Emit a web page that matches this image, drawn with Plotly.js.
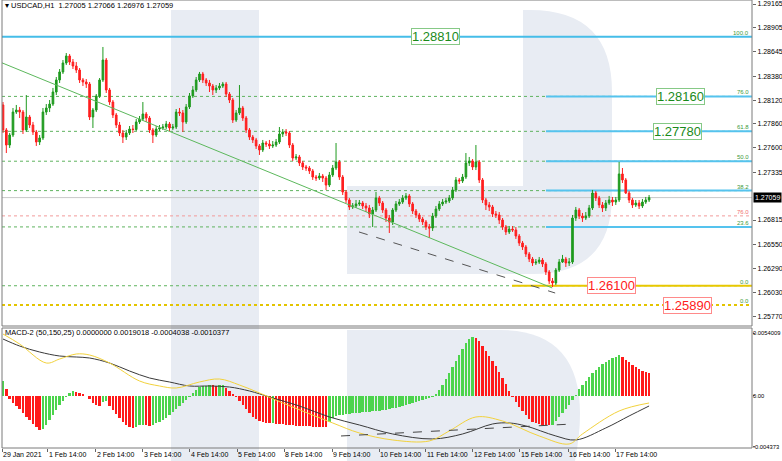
<!DOCTYPE html>
<html>
<head>
<meta charset="utf-8">
<script src="https://cdn.plot.ly/plotly-3.0.1.min.js"></script>
<style>html,body{margin:0;padding:0;background:#fff;}#chart{width:782px;height:461px;}</style>
</head>
<body>
<div id="chart"></div>
<script>
// ---------------- DATA ----------------
const openP = [1.28067,1.27795,1.27631,1.27740,1.27990,1.28012,1.27990,1.27795,1.27936,1.27849,
1.27773,1.27664,1.27708,1.27990,1.28034,1.28077,1.28208,1.28339,1.28426,1.28524,
1.28600,1.28534,1.28491,1.28447,1.28339,1.28317,1.28295,1.27936,1.28012,1.28165,
1.28339,1.28556,1.28230,1.28099,1.27958,1.27849,1.27762,1.27718,1.27762,1.27805,
1.27800,1.27882,1.27914,1.27969,1.27925,1.27795,1.27740,1.27805,1.27816,1.27827,
1.27860,1.27816,1.27827,1.27990,1.27980,1.27882,1.28045,1.28165,1.28230,1.28339,
1.28404,1.28339,1.28306,1.28273,1.28230,1.28252,1.28273,1.28295,1.28186,1.28121,
1.27903,1.27980,1.28034,1.27925,1.27795,1.27718,1.27686,1.27621,1.27577,1.27653,
1.27642,1.27621,1.27631,1.27664,1.27751,1.27773,1.27762,1.27631,1.27490,1.27501,
1.27436,1.27392,1.27381,1.27349,1.27283,1.27272,1.27294,1.27272,1.27196,1.27305,
1.27381,1.27447,1.27283,1.27120,1.27033,1.26957,1.26968,1.26990,1.27000,1.26968,
1.26946,1.26881,1.26924,1.27055,1.27000,1.26924,1.26837,1.26794,1.26924,1.26990,
1.27011,1.27055,1.27077,1.26990,1.26913,1.26870,1.26826,1.26794,1.26739,1.26728,
1.26859,1.26935,1.26990,1.27011,1.27022,1.27055,1.27142,1.27251,1.27240,1.27283,
1.27436,1.27457,1.27392,1.27447,1.27251,1.27033,1.26979,1.26957,1.26881,1.26870,
1.26815,1.26739,1.26685,1.26717,1.26707,1.26641,1.26565,1.26522,1.26445,1.26391,
1.26348,1.26358,1.26380,1.26337,1.26250,1.26152,1.26130,1.26271,1.26358,1.26391,
1.26348,1.26358,1.26837,1.26924,1.26859,1.26837,1.26859,1.26946,1.27109,1.27055,
1.26979,1.26946,1.27000,1.27033,1.27011,1.27033,1.27316,1.27251,1.27109,1.27033,
1.26979,1.27000,1.26968,1.27011,1.27033];
const highP = [1.28099,1.27816,1.27762,1.28034,1.28067,1.28045,1.28012,1.28175,1.27958,1.27882,
1.27795,1.27740,1.28034,1.28077,1.28121,1.28252,1.28371,1.28458,1.28556,1.28632,
1.28621,1.28567,1.28534,1.28469,1.28360,1.28349,1.28317,1.28034,1.28186,1.28360,
1.28698,1.28578,1.28252,1.28121,1.27980,1.27882,1.27795,1.27795,1.27838,1.27849,
1.27914,1.27947,1.28099,1.27990,1.27947,1.27816,1.27838,1.27849,1.27860,1.27893,
1.27882,1.27860,1.28023,1.28034,1.28012,1.28077,1.28197,1.28273,1.28371,1.28426,
1.28426,1.28360,1.28339,1.28295,1.28284,1.28306,1.28317,1.28317,1.28208,1.28143,
1.28012,1.28284,1.28056,1.27947,1.27816,1.27740,1.27708,1.27642,1.27686,1.27675,
1.27686,1.27675,1.27697,1.27827,1.27805,1.27805,1.27784,1.27653,1.27533,1.27523,
1.27457,1.27414,1.27403,1.27370,1.27305,1.27327,1.27316,1.27294,1.27338,1.27414,
1.27653,1.27468,1.27305,1.27142,1.27055,1.27000,1.27033,1.27033,1.27022,1.27000,
1.26979,1.26957,1.27120,1.27077,1.27022,1.26946,1.26870,1.26946,1.27022,1.27044,
1.27087,1.27109,1.27098,1.27011,1.26935,1.26892,1.26848,1.26815,1.26772,1.26892,
1.26968,1.27022,1.27044,1.27055,1.27087,1.27174,1.27283,1.27272,1.27316,1.27544,
1.27501,1.27479,1.27631,1.27468,1.27272,1.27055,1.27011,1.26979,1.26913,1.26902,
1.26837,1.26761,1.26750,1.26750,1.26739,1.26663,1.26587,1.26543,1.26467,1.26413,
1.26391,1.26413,1.26402,1.26358,1.26271,1.26184,1.26293,1.26391,1.26435,1.26413,
1.26402,1.26870,1.26957,1.26946,1.26892,1.26902,1.26979,1.27142,1.27131,1.27077,
1.27011,1.27033,1.27077,1.27066,1.27066,1.27447,1.27381,1.27272,1.27131,1.27055,
1.27033,1.27033,1.27044,1.27066,1.27087];
const lowP = [1.27762,1.27544,1.27599,1.27718,1.27969,1.27925,1.27751,1.27773,1.27816,1.27740,
1.27621,1.27631,1.27686,1.27958,1.27990,1.28056,1.28175,1.28306,1.28404,1.28502,
1.28502,1.28458,1.28415,1.28306,1.28273,1.28252,1.27903,1.27816,1.27990,1.28143,
1.28317,1.28197,1.28067,1.27925,1.27816,1.27729,1.27653,1.27686,1.27740,1.27762,
1.27784,1.27860,1.27893,1.27882,1.27762,1.27653,1.27718,1.27784,1.27795,1.27805,
1.27784,1.27795,1.27805,1.27947,1.27773,1.27860,1.28023,1.28143,1.28208,1.28317,
1.28306,1.28273,1.28208,1.28175,1.28197,1.28230,1.28252,1.28154,1.28088,1.27871,
1.27882,1.27958,1.27893,1.27762,1.27686,1.27653,1.27588,1.27523,1.27555,1.27610,
1.27588,1.27599,1.27610,1.27642,1.27718,1.27729,1.27599,1.27457,1.27468,1.27403,
1.27359,1.27349,1.27316,1.27251,1.27240,1.27251,1.27229,1.27142,1.27174,1.27283,
1.27359,1.27251,1.27087,1.27000,1.26924,1.26935,1.26946,1.26968,1.26935,1.26902,
1.26837,1.26739,1.26902,1.26968,1.26892,1.26794,1.26674,1.26761,1.26902,1.26968,
1.26990,1.27033,1.26957,1.26881,1.26837,1.26794,1.26761,1.26707,1.26620,1.26696,
1.26837,1.26913,1.26968,1.26990,1.27000,1.27033,1.27120,1.27207,1.27218,1.27261,
1.27403,1.27359,1.27359,1.27218,1.27000,1.26924,1.26913,1.26848,1.26837,1.26772,
1.26707,1.26652,1.26663,1.26685,1.26609,1.26533,1.26489,1.26413,1.26358,1.26315,
1.26326,1.26337,1.26304,1.26217,1.26119,1.26086,1.26108,1.26250,1.26348,1.26304,
1.26315,1.26337,1.26805,1.26826,1.26794,1.26815,1.26837,1.26924,1.27022,1.26946,
1.26902,1.26913,1.26979,1.26968,1.26979,1.27011,1.27218,1.27098,1.27000,1.26946,
1.26957,1.26935,1.26946,1.26990,1.27011];
const closeP = [1.27795,1.27631,1.27740,1.27990,1.28012,1.27990,1.27795,1.27936,1.27849,1.27773,
1.27664,1.27708,1.27990,1.28034,1.28077,1.28208,1.28339,1.28426,1.28524,1.28600,
1.28534,1.28491,1.28447,1.28339,1.28317,1.28295,1.27936,1.28012,1.28165,1.28339,
1.28556,1.28230,1.28099,1.27958,1.27849,1.27762,1.27718,1.27762,1.27805,1.27800,
1.27882,1.27914,1.27969,1.27925,1.27795,1.27740,1.27805,1.27816,1.27827,1.27860,
1.27816,1.27827,1.27990,1.27980,1.27882,1.28045,1.28165,1.28230,1.28339,1.28404,
1.28339,1.28306,1.28273,1.28230,1.28252,1.28273,1.28295,1.28186,1.28121,1.27903,
1.27980,1.28034,1.27925,1.27795,1.27718,1.27686,1.27621,1.27577,1.27653,1.27642,
1.27621,1.27631,1.27664,1.27751,1.27773,1.27762,1.27631,1.27490,1.27501,1.27436,
1.27392,1.27381,1.27349,1.27283,1.27272,1.27294,1.27272,1.27196,1.27305,1.27381,
1.27447,1.27283,1.27120,1.27033,1.26957,1.26968,1.26990,1.27000,1.26968,1.26946,
1.26881,1.26924,1.27055,1.27000,1.26924,1.26837,1.26794,1.26924,1.26990,1.27011,
1.27055,1.27077,1.26990,1.26913,1.26870,1.26826,1.26794,1.26739,1.26728,1.26859,
1.26935,1.26990,1.27011,1.27022,1.27055,1.27142,1.27251,1.27240,1.27283,1.27436,
1.27457,1.27392,1.27447,1.27251,1.27033,1.26979,1.26957,1.26881,1.26870,1.26815,
1.26739,1.26685,1.26717,1.26707,1.26641,1.26565,1.26522,1.26445,1.26391,1.26348,
1.26358,1.26380,1.26337,1.26250,1.26152,1.26130,1.26271,1.26358,1.26391,1.26348,
1.26358,1.26837,1.26924,1.26859,1.26837,1.26859,1.26946,1.27109,1.27055,1.26979,
1.26946,1.27000,1.27033,1.27011,1.27033,1.27316,1.27251,1.27109,1.27033,1.26979,
1.27000,1.26968,1.27011,1.27033,1.27059];

// MACD histogram (one bar per candle)
const macdHist = [0.00129,0.0006,-0.00026,-0.0006,-0.00086,-0.00111,-0.00146,-0.0018,-0.00206,-0.0024,
-0.00266,-0.00291,-0.00283,-0.00249,-0.00206,-0.00163,-0.0012,-0.00077,-0.00043,-0.00009,
0.00026,0.00043,0.00034,0.00026,0.00017,0.00003,-0.00026,-0.0006,-0.00077,-0.00086,
-0.0005,-0.00043,-0.00086,-0.0012,-0.00154,-0.00189,-0.00223,-0.00249,-0.00266,-0.00274,
-0.00266,-0.00249,-0.00246,-0.0025,-0.00254,-0.0025,-0.00231,-0.00223,-0.00206,-0.00189,
-0.00163,-0.00137,-0.00111,-0.00086,-0.0006,-0.00034,-0.00009,0.00026,0.00051,0.00077,
0.00086,0.00089,0.00094,0.0009,0.00086,0.00094,0.00097,0.00069,0.00043,0.00017,
-0.00009,-0.00043,-0.0008,-0.00115,-0.0015,-0.0018,-0.002,-0.00214,-0.00223,-0.0023,
-0.00235,-0.00232,-0.00236,-0.0024,-0.00243,-0.00246,-0.00249,-0.00252,-0.00254,-0.00256,
-0.00258,-0.0026,-0.00261,-0.00262,-0.00263,-0.00264,-0.00265,-0.00266,-0.0022,-0.0019,
-0.0017,-0.00165,-0.0016,-0.00156,-0.00152,-0.00149,-0.00146,-0.00143,-0.0014,-0.00137,
-0.00134,-0.00131,-0.00128,-0.00125,-0.00122,-0.00118,-0.00113,-0.00107,-0.001,-0.00092,
-0.00084,-0.00076,-0.00068,-0.0006,-0.00052,-0.00044,-0.00036,-0.00028,-0.0002,-0.00009,
0.00017,0.00051,0.00094,0.00146,0.00197,0.00249,0.003,0.00351,0.00403,0.00454,
0.00489,0.00506,0.00497,0.00471,0.00429,0.00386,0.00343,0.003,0.00257,0.00206,
0.00154,0.00103,0.00043,-0.00009,-0.0005,-0.00094,-0.0013,-0.00163,-0.00197,-0.00223,
-0.00231,-0.0024,-0.00246,-0.0025,-0.00252,-0.00249,-0.00214,-0.0018,-0.00146,-0.00111,
-0.00077,-0.00034,0.00009,0.0006,0.00094,0.00129,0.00163,0.00197,0.00223,0.00249,
0.00274,0.00291,0.00309,0.00326,0.00334,0.00351,0.00334,0.00309,0.00291,0.00266,
0.00249,0.00231,0.00214,0.00206,0.00197];

// MACD lines, read at selected bar indices
const blackIdx = [0,5,11,17,22,26,32,38,44,50,56,62,68,74,80,89,98,107,117,129,138,147,152,157,166,172,181,188,194];
const blackVal = [0.004885,0.004285,0.003771,0.003428,0.003342,0.003257,0.002828,0.002143,0.001543,0.0012,0.000857,0.000857,0.000771,0.000429,-0.000086,-0.000857,-0.0018,-0.002485,-0.003257,-0.003685,-0.003257,-0.0024,-0.002314,-0.002571,-0.003428,-0.003771,-0.002742,-0.001714,-0.000857];
const yellowIdx = [0,5,13,17,22,26,32,41,47,52,59,65,71,77,84,99,107,117,128,134,142,150,161,170,174,185,194];
const yellowVal = [0.005313,0.004456,0.002828,0.003171,0.0036,0.003514,0.002828,0.001286,0.000857,0.000686,0.0012,0.001457,0.000943,0.000257,-0.0006,-0.002314,-0.003171,-0.003771,-0.003857,-0.003,-0.0018,-0.002143,-0.003428,-0.004114,-0.003257,-0.001286,-0.0006];

// Time-axis labels and their bar positions
const timeLabels = ['29 Jan 2021','1 Feb 14:00','2 Feb 14:00','3 Feb 14:00','4 Feb 14:00','5 Feb 14:00','8 Feb 14:00','9 Feb 14:00','10 Feb 14:00','11 Feb 14:00','12 Feb 14:00','15 Feb 14:00','16 Feb 14:00','17 Feb 14:00'];
const timePos = [-0.3,13.5,27.9,42.0,56.1,70.3,84.4,98.8,112.9,127.0,141.1,155.2,169.7,183.8];

// Price-axis ticks
const priceTicks = [1.29165,1.28905,1.28645,1.28380,1.28120,1.27860,1.27600,1.27335,1.26815,1.26550,1.26290,1.26030,1.25770];
const macdTicks = [0.0054009,0,-0.004373];
const macdTickText = ['0.0054009','0.00','-0.004373'];
const lastPrice = 1.27059;

// Fibonacci levels (blue fibo) and second fibo (red/yellow)
const fiboPrices = [1.28810,1.28160,1.27780,1.27455,1.27135,1.26740,1.26100];
const fiboTags = ['100.0','76.0','61.8','50.0','38.2','23.6','0.0'];
const fibo2Prices = [1.26860,1.25890];
const fibo2Tags = ['76.0','0.0'];

// Boxed price labels
const boxPrices = [1.28810,1.28160,1.27780,1.26100,1.25890];
const boxTexts = ['1.28810','1.28160','1.27780','1.26100','1.25890'];

// Trend lines (bar index, price)
const trendGreenX = [-0.9,164.9], trendGreenY = [1.28534,1.26076];
const trendDashX = [106.9,165.8], trendDashY = [1.26685,1.26021];
const macdDashX = [101.5,171.2], macdDashY = [-0.003428,-0.0024];

// ---------------- STYLE / LAYOUT ----------------
const W = 782, H = 461, ML = 2, MR = 30, MT = 0, MB = 13;
const PW = W - ML - MR, PH = H - MT - MB;
const X = px => (px - ML) / PW;
const Y = py => (PH - py) / PH;
const mainDom = [Y(326), 1];
const macdDom = [0, Y(328)];
const boxCenters = [435, 680, 677, 611, 687];
const boxFont = ['#1a8a1a','#1a8a1a','#1a8a1a','#ff2020','#ff2020'];
const boxBorder = ['#86c986','#86c986','#86c986','#ff8a8a','#ff8a8a'];

const FONT = 'Liberation Sans, Arial, sans-serif';
const GREEN = '#1f9a1f', RED = '#ff1f1f';

const idx = macdHist.map((_, i) => i);
const histColors = macdHist.map((v, i) => (i > 0 && v < macdHist[i - 1]) ? '#ff1a1a' : '#4cd44c');

const traces = [
  {type:'candlestick', open:openP, high:highP, low:lowP, close:closeP, xaxis:'x', yaxis:'y',
   increasing:{line:{color:GREEN,width:1}, fillcolor:GREEN},
   decreasing:{line:{color:RED,width:1}, fillcolor:RED},
   whiskerwidth:0, hoverinfo:'skip', showlegend:false},
  {type:'scatter', mode:'lines', x:trendGreenX, y:trendGreenY, xaxis:'x', yaxis:'y',
   line:{color:'#5cb85c', width:1}, hoverinfo:'skip', showlegend:false},
  {type:'scatter', mode:'lines', x:trendDashX, y:trendDashY, xaxis:'x', yaxis:'y',
   line:{color:'#555555', width:1, dash:'dash'}, hoverinfo:'skip', showlegend:false},
  {type:'bar', x:idx, y:macdHist, xaxis:'x', yaxis:'y2', marker:{color:histColors, line:{width:0}},
   width:0.72, hoverinfo:'skip', showlegend:false},
  {type:'scatter', mode:'lines', x:blackIdx, y:blackVal, xaxis:'x', yaxis:'y2',
   line:{color:'#3a3a3a', width:1, shape:'spline'}, hoverinfo:'skip', showlegend:false},
  {type:'scatter', mode:'lines', x:yellowIdx, y:yellowVal, xaxis:'x', yaxis:'y2',
   line:{color:'#f2d23c', width:1, shape:'spline'}, hoverinfo:'skip', showlegend:false},
  {type:'scatter', mode:'lines', x:macdDashX, y:macdDashY, xaxis:'x', yaxis:'y2',
   line:{color:'#444444', width:1, dash:'dash'}, hoverinfo:'skip', showlegend:false}
];

// ---- shapes ----
const shapes = [];
const WM = '#e8ecf3';
shapes.push({type:'rect', xref:'paper', yref:'paper', x0:X(171), x1:X(259), y0:Y(461), y1:Y(10), fillcolor:WM, line:{width:0}, layer:'below'});
const P = (px, py) => X(px) + ',' + Y(py);
shapes.push({type:'path', xref:'paper', yref:'paper', layer:'below', fillcolor:WM, line:{width:0},
  path:'M' + P(523,10) + ' L' + P(530,10) + ' Q' + P(612,10) + ' ' + P(612,92) +
       ' L' + P(612,195) + ' Q' + P(612,274) + ' ' + P(533,274) + ' L' + P(347,274) +
       ' L' + P(347,186) + ' L' + P(523,186) + ' Z'});
shapes.push({type:'path', xref:'paper', yref:'paper', layer:'below', fillcolor:WM, line:{width:0},
  path:'M' + P(347,330) + ' L' + P(500,330) + ' Q' + P(600,330) + ' ' + P(575,461) + ' L' + P(347,461) + ' Z'});

fiboPrices.forEach((p, i) => {
  if (i === 0) {
    shapes.push({type:'line', xref:'paper', yref:'y', x0:0, x1:1, y0:p, y1:p, line:{color:'#45bde8', width:2}, layer:'below'});
  } else {
    shapes.push({type:'line', xref:'paper', yref:'y', x0:0, x1:1, y0:p, y1:p, line:{color:'#5fb35f', width:1, dash:'dot'}, layer:'below'});
    if (i < fiboPrices.length - 1)
      shapes.push({type:'line', xref:'paper', yref:'y', x0:X(546), x1:1, y0:p, y1:p, line:{color:'#55c3ee', width:2}, layer:'below'});
  }
});
shapes.push({type:'line', xref:'paper', yref:'y', x0:X(512), x1:1, y0:fiboPrices[6], y1:fiboPrices[6], line:{color:'#e8c800', width:2}, layer:'below'});
shapes.push({type:'line', xref:'paper', yref:'y', x0:0, x1:1, y0:fibo2Prices[0], y1:fibo2Prices[0], line:{color:'#f29a9a', width:1, dash:'dot'}, layer:'below'});
shapes.push({type:'line', xref:'paper', yref:'y', x0:0, x1:1, y0:fibo2Prices[1], y1:fibo2Prices[1], line:{color:'#e3c400', width:2, dash:'dot'}, layer:'below'});
shapes.push({type:'line', xref:'paper', yref:'y', x0:0, x1:1, y0:lastPrice, y1:lastPrice, line:{color:'#c8c8c8', width:1}, layer:'below'});
shapes.push({type:'rect', xref:'paper', yref:'paper', x0:0, x1:1, y0:mainDom[0], y1:mainDom[1], line:{color:'#7a7a7a', width:1}, layer:'above'});
shapes.push({type:'rect', xref:'paper', yref:'paper', x0:0, x1:1, y0:macdDom[0], y1:macdDom[1], line:{color:'#7a7a7a', width:1}, layer:'above'});

// ---- annotations ----
const ann = [];
ann.push({xref:'paper', yref:'paper', x:X(3), y:Y(6), xanchor:'left', yanchor:'middle', showarrow:false,
  text:'▾ USDCAD,H1  1.27005 1.27066 1.26976 1.27059', font:{family:FONT, size:7.5, color:'#000'}});
ann.push({xref:'paper', yref:'paper', x:X(3), y:Y(332), xanchor:'left', yanchor:'middle', showarrow:false,
  text:'MACD-2 (50,150,25) 0.0000000 0.0019018 -0.0004038 -0.0010377', font:{family:FONT, size:7.5, color:'#000'}});
boxPrices.forEach((p, i) => {
  ann.push({xref:'paper', yref:'y', x:X(boxCenters[i]), y:p, xanchor:'center', yanchor:'middle', showarrow:false,
    text:boxTexts[i], font:{family:FONT, size:13, color:boxFont[i]}, bgcolor:'#ffffff',
    bordercolor:boxBorder[i], borderwidth:1, borderpad:0});
});
fiboPrices.forEach((p, i) => {
  ann.push({xref:'paper', yref:'y', x:1, y:p, xanchor:'right', yanchor:'bottom', showarrow:false, xshift:-1, yshift:-1,
    text:fiboTags[i], font:{family:FONT, size:6, color:'#3c9a3c'}});
});
fibo2Prices.forEach((p, i) => {
  ann.push({xref:'paper', yref:'y', x:1, y:p, xanchor:'right', yanchor:'bottom', showarrow:false, xshift:-1, yshift:-1,
    text:fibo2Tags[i], font:{family:FONT, size:6, color: i === 0 ? '#f07070' : '#3c9a3c'}});
});
ann.push({xref:'paper', yref:'y', x:1, y:lastPrice, xanchor:'left', yanchor:'middle', showarrow:false, xshift:1,
  text:'1.27059', font:{family:FONT, size:7, color:'#ffffff'}, bgcolor:'#000000', borderpad:1});
// MACD axis labels (placed as text next to the tick marks)
macdTicks.forEach((v, i) => {
  ann.push({xref:'paper', yref:'y2', x:1, y:v, xanchor:'left', yanchor:'middle', showarrow:false, xshift:0,
    borderpad:0, text:macdTickText[i], font:{family:FONT, size:5.8, color:'#000'}});
});
timeLabels.forEach((t, i) => {
  ann.push({xref:'x', yref:'paper', x:timePos[i], y:Y(449), xanchor:'left', yanchor:'top', showarrow:false, xshift:-1,
    text:t, font:{family:FONT, size:7, color:'#000'}});
});

const layout = {
  width:W, height:H, margin:{l:ML, r:MR, t:MT, b:MB, pad:0},
  paper_bgcolor:'#ffffff', plot_bgcolor:'rgba(0,0,0,0)', showlegend:false, dragmode:false,
  xaxis:{range:[-0.3,224.9], anchor:'y2', showgrid:false, zeroline:false, showticklabels:false,
    tickvals:timePos, ticks:'outside', ticklen:3, tickcolor:'#666', rangeslider:{visible:false}, fixedrange:true},
  yaxis:{domain:mainDom, range:[1.25662,1.29209], side:'right', anchor:'x', showgrid:false, zeroline:false,
    tickvals:priceTicks, tickformat:'.5f', ticks:'outside', ticklen:3, tickcolor:'#666',
    tickfont:{family:FONT, size:7, color:'#000'}, fixedrange:true},
  yaxis2:{domain:macdDom, range:[-0.00446,0.00583], side:'right', anchor:'x', showgrid:false, zeroline:false,
    tickvals:macdTicks, showticklabels:false, ticks:'outside', ticklen:2, tickcolor:'#666', fixedrange:true},
  bargap:0, shapes:shapes, annotations:ann
};
Plotly.newPlot('chart', traces, layout, {staticPlot:true, displayModeBar:false});
</script>
</body>
</html>
